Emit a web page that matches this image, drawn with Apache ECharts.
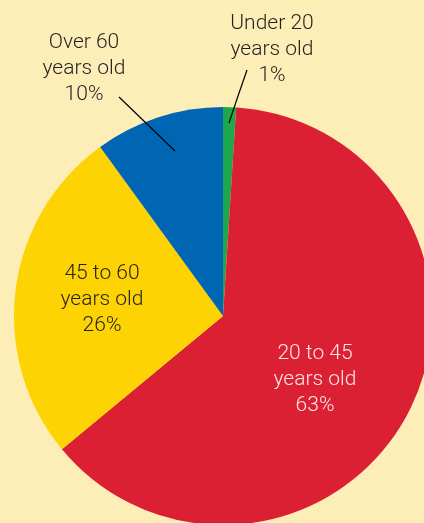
<!DOCTYPE html>
<html>
<head>
<meta charset="utf-8">
<script src="https://cdn.jsdelivr.net/npm/echarts@6/dist/echarts.min.js"></script>
<style>
html,body{margin:0;padding:0;background:#FDEDB6;}
#c{width:424px;height:523px;}
</style>
</head>
<body>
<div id="c"></div>
<script>
const categories = ["Under 20\nyears old", "20 to 45\nyears old", "45 to 60\nyears old", "Over 60\nyears old"];
const values = [1, 63, 26, 10];
const colors = ["#1BA94C", "#DA2032", "#FDD303", "#0066B3"];
const textColors = ["#231F20", "#FCE6E6", "#231F20", "#231F20"];

// label placements (text centre) and leader lines
const labelPos = [[272, 50], [315, 380], [102, 300], [84, 69]];
const leaders = [
  [[229, 123], [238, 96], [247, 70]],
  null,
  null,
  [[175, 151], [147, 124], [119, 97]]
];

const labelBase = {
  show: true,
  fontFamily: 'Roboto',
  fontWeight: 300,
  fontSize: 21,
  lineHeight: 26,
  align: 'center',
  formatter: p => p.name + '\n' + p.value + '%'
};
const layoutFn = function (params) {
  const i = params.dataIndex;
  const o = { x: labelPos[i][0], y: labelPos[i][1], align: 'center', verticalAlign: 'middle' };
  if (leaders[i]) o.labelLinePoints = leaders[i];
  return o;
};

const chart = echarts.init(document.getElementById('c'), null, {renderer: 'canvas'});
chart.setOption({
  backgroundColor: '#FDEDB6',
  animation: false,
  series: [{
    type: 'pie',
    z: 2,
    center: [223, 316],
    radius: 209,
    startAngle: 90,
    clockwise: true,
    label: labelBase,
    labelLine: { show: false },
    labelLayout: layoutFn,
    data: categories.map((c, i) => ({
      name: c,
      value: values[i],
      itemStyle: { color: colors[i] },
      label: { show: !leaders[i], color: textColors[i], position: 'inside' }
    }))
  }, {
    type: 'pie',
    z: 5,
    silent: true,
    center: [223, 316],
    radius: 209,
    startAngle: 90,
    clockwise: true,
    label: labelBase,
    labelLine: { show: true, lineStyle: { color: '#000', width: 1.2 } },
    labelLayout: layoutFn,
    data: categories.map((c, i) => ({
      name: c,
      value: values[i],
      itemStyle: { color: 'rgba(0,0,0,0)' },
      label: { show: !!leaders[i], color: textColors[i], position: 'outside' },
      labelLine: { show: !!leaders[i] }
    }))
  }]
});
</script>
</body>
</html>
